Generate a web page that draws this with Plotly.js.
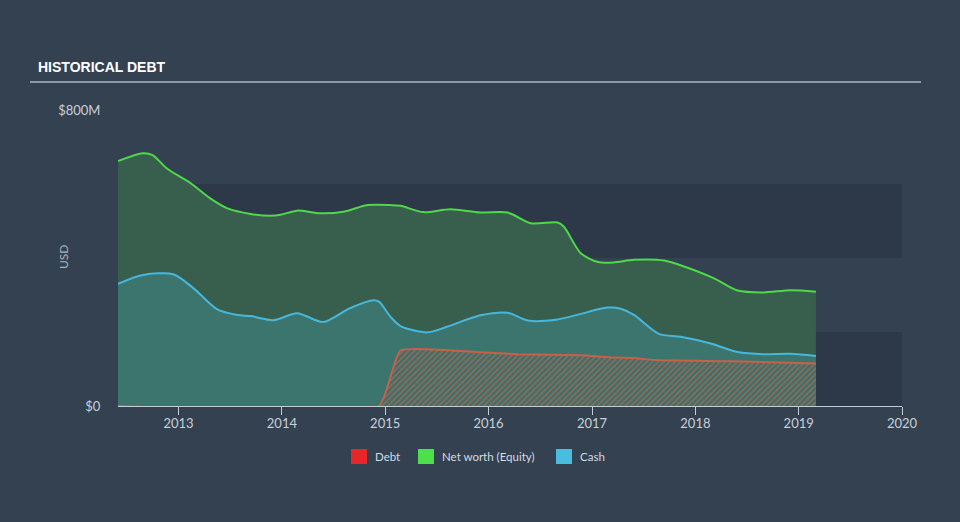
<!DOCTYPE html>
<html>
<head>
<meta charset="utf-8">
<script src="https://cdn.plot.ly/plotly-3.0.1.min.js"></script>
<style>
html,body{margin:0;padding:0;background:#334151;}
#chart{width:960px;height:522px;}
</style>
</head>
<body>
<div id="chart"></div>
<script>
// Net worth (Equity), USD millions
const equityDates = ['2012-06-01','2012-08-28','2012-10-01','2012-11-21','2013-02-13','2013-04-23','2013-06-23','2013-09-13','2013-11-22','2013-12-28','2014-02-24','2014-05-16','2014-08-07','2014-10-31','2015-01-20','2015-02-24','2015-05-16','2015-08-19','2015-12-03','2016-03-08','2016-05-30','2016-09-01','2016-09-23','2016-11-22','2017-01-22','2017-03-18','2017-05-29','2017-09-13','2017-11-22','2018-03-08','2018-05-30','2018-08-29','2018-12-03','2019-03-03'];
const equityValues = [662,683,678,642,602,561,534,519,514,517,528,521,525,543,543,541,524,532,523,523,494,496,485,413,389,388,395,393,377,345,312,307,313,309];

// Cash, USD millions
const cashDates = ['2012-06-01','2012-08-28','2012-12-13','2013-02-23','2013-05-18','2013-07-28','2013-09-13','2013-12-03','2014-02-24','2014-05-27','2014-08-28','2014-11-21','2014-12-10','2015-01-20','2015-02-24','2015-05-30','2015-08-07','2015-12-03','2016-03-08','2016-05-19','2016-09-01','2016-11-22','2017-02-23','2017-04-12','2017-05-29','2017-08-25','2017-11-10','2018-02-24','2018-05-30','2018-08-29','2018-12-03','2019-03-03'];
const cashValues = [330,354,356,318,261,246,243,232,251,227,264,286,282,241,216,199,214,245,252,231,234,249,266,263,246,195,187,169,146,140,141,135];

// Debt, USD millions
const debtDates = ['2012-06-01','2014-12-10','2015-02-24','2015-12-03','2016-04-15','2016-11-22','2017-03-18','2017-05-29','2017-08-10','2018-05-01','2019-03-03'];
const debtValues = [0,0,150,145,140,137,131,130,124,121,115];

const yTickVals = [0, 800];
const yTickText = ['$0', '$800M'];
const xTickVals = ['2013-01-01','2014-01-01','2015-01-01','2016-01-01','2017-01-01','2018-01-01','2019-01-01','2020-01-01'];
const xTickText = ['2013','2014','2015','2016','2017','2018','2019','2020'];

const legendNames = ['Debt', 'Net worth (Equity)', 'Cash'];
const legendColors = ['#e8262a', '#4ee04b', '#48bde0'];

// layout helpers: pixel -> paper coordinates of the plot area (118..902, 406..110)
const PL = 118, PR = 902, PB = 406, PT = 110;
const px = v => (v - PL) / (PR - PL);
const py = v => (PB - v) / (PB - PT);

const traces = [
  {
    type: 'scatter', mode: 'lines', x: equityDates, y: equityValues,
    fill: 'tozeroy', fillcolor: '#385f4d',
    line: {color: '#4ed84a', width: 2, shape: 'spline', smoothing: 0.8},
    showlegend: false, hoverinfo: 'skip'
  },
  {
    type: 'scatter', mode: 'lines', x: cashDates, y: cashValues,
    fill: 'tozeroy', fillcolor: '#3b756e',
    line: {color: '#47b7db', width: 2, shape: 'spline', smoothing: 0.8},
    showlegend: false, hoverinfo: 'skip'
  },
  {
    type: 'scatter', mode: 'lines', x: debtDates, y: debtValues,
    fill: 'tozeroy', fillcolor: '#3b756e',
    fillpattern: {shape: '/', bgcolor: '#3d7068', fgcolor: '#a8685a', size: 4, solidity: 0.3},
    line: {color: '#c8604a', width: 2, shape: 'spline', smoothing: 0.4},
    showlegend: false, hoverinfo: 'skip'
  }
];

const legendSquareX = [351, 418, 556];
const shapes = [
  {type: 'rect', xref: 'paper', yref: 'y', x0: 0, x1: 1, y0: 0, y1: 200, fillcolor: '#2d3949', line: {width: 0}, layer: 'below'},
  {type: 'rect', xref: 'paper', yref: 'y', x0: 0, x1: 1, y0: 400, y1: 600, fillcolor: '#2d3949', line: {width: 0}, layer: 'below'},
  {type: 'line', xref: 'paper', yref: 'paper', x0: px(30), x1: px(921), y0: py(82), y1: py(82), line: {color: '#8d98a4', width: 2}}
];
const annotations = [
  {text: '<b>HISTORICAL DEBT</b>', xref: 'paper', yref: 'paper', x: px(36), y: py(67.5),
   xanchor: 'left', yanchor: 'middle', showarrow: false,
   font: {family: '"Liberation Sans Narrow", "Liberation Sans", Arial, sans-serif', size: 14, color: '#ffffff'}},
  {text: 'USD', xref: 'paper', yref: 'paper', x: px(63), y: py(257), textangle: -90,
   xanchor: 'center', yanchor: 'middle', showarrow: false,
   font: {family: 'Lato, sans-serif', size: 12, color: '#aab3be'}}
];
legendNames.forEach((n, i) => {
  const x0 = legendSquareX[i];
  shapes.push({type: 'rect', xref: 'paper', yref: 'paper', x0: px(x0), x1: px(x0 + 16), y0: py(464), y1: py(449),
    fillcolor: legendColors[i], line: {width: 0}});
  annotations.push({text: n, xref: 'paper', yref: 'paper', x: px(x0 + 22), y: py(456.5),
    xanchor: 'left', yanchor: 'middle', showarrow: false,
    font: {family: 'Lato, sans-serif', size: 11.5, color: '#d5dbe2'}});
});

const layout = {
  width: 960, height: 522,
  paper_bgcolor: '#334151', plot_bgcolor: 'rgba(0,0,0,0)',
  margin: {l: PL, r: 960 - PR, t: PT, b: 522 - PB},
  font: {family: 'Lato, "Open Sans", sans-serif', color: '#c9d0d8', size: 12},
  xaxis: {
    type: 'date', range: ['2012-06-01', '2020-01-01'],
    tickvals: xTickVals, ticktext: xTickText,
    showgrid: false, zeroline: false,
    showline: true, linecolor: '#c5ccd5', linewidth: 1,
    ticks: 'outside', ticklen: 8, tickcolor: '#c5ccd5', tickwidth: 1,
    ticklabelstandoff: -3,
    tickfont: {size: 13, color: '#c9d0d8'}, fixedrange: true
  },
  yaxis: {
    range: [0, 800], tickvals: yTickVals, ticktext: yTickText,
    showgrid: false, zeroline: false, showline: false,
    ticks: 'outside', ticklen: 14, tickcolor: 'rgba(0,0,0,0)',
    tickfont: {size: 13, color: '#c9d0d8'},
    fixedrange: true
  },
  shapes: shapes,
  annotations: annotations,
  showlegend: false
};

Plotly.newPlot('chart', traces, layout, {displayModeBar: false, staticPlot: true});
</script>
</body>
</html>
